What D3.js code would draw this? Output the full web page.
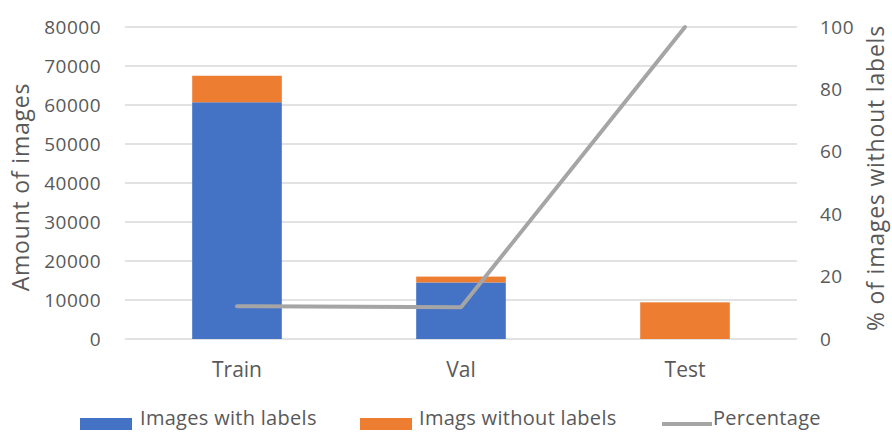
<!DOCTYPE html>
<html><head><meta charset="utf-8">
<script src="https://cdn.jsdelivr.net/npm/d3@7"></script>
<style>body{margin:0;background:#fff}text{font-family:"Open Sans",sans-serif;fill:#595959}</style>
</head><body>
<svg id="c" width="892" height="432"></svg>
<script>
const categories = ["Train", "Val", "Test"];
const withLabels = [60700, 14500, 0];
const withoutLabels = [6800, 1500, 9400];
const percentage = [10.5, 10.2, 100];
const leftTicks = [0,10000,20000,30000,40000,50000,60000,70000,80000];
const rightTicks = [0,20,40,60,80,100];
const seriesNames = ["Images with labels", "Imags without labels", "Percentage"];

const svg = d3.select("#c");
const L=125, R=797, T=27, B=339;
const x = d3.scaleBand().domain(categories).range([L,R]).paddingInner(0.6).paddingOuter(0.3);
const y = d3.scaleLinear().domain([0,80000]).range([B,T]);
const y2 = d3.scaleLinear().domain([0,100]).range([B,T]);

// gridlines
svg.append("g").selectAll("line").data(leftTicks).join("line")
  .attr("x1",L).attr("x2",R).attr("y1",d=>y(d)).attr("y2",d=>y(d))
  .attr("stroke","#d9d9d9").attr("stroke-width",1.5);

// left axis labels
const ax = svg.append("g").attr("transform",`translate(${L},0)`)
  .call(d3.axisLeft(y).tickValues(leftTicks).tickSize(0).tickPadding(24).tickFormat(d3.format("d")));
ax.select(".domain").remove();
ax.selectAll("text").style("font-size","19px").attr("letter-spacing","0.5px").attr("font-family",null);

const ax2 = svg.append("g").attr("transform",`translate(${R},0)`)
  .call(d3.axisRight(y2).tickValues(rightTicks).tickSize(0).tickPadding(23));
ax2.select(".domain").remove();
ax2.selectAll("text").style("font-size","19px").attr("letter-spacing","0.5px").attr("font-family",null);

const ax3 = svg.append("g").attr("transform",`translate(0,${B})`)
  .call(d3.axisBottom(x).tickSize(0).tickPadding(23));
ax3.select(".domain").remove();
ax3.selectAll("text").style("font-size","21px").attr("font-family",null);

// bars
const stack = categories.map((c,i)=>({c, a:withLabels[i], b:withoutLabels[i]}));
svg.append("g").selectAll("rect").data(stack).join("rect")
  .attr("x",d=>x(d.c)).attr("width",x.bandwidth())
  .attr("y",d=>y(d.a)).attr("height",d=>y(0)-y(d.a)).attr("fill","#4472c4");
svg.append("g").selectAll("rect").data(stack).join("rect")
  .attr("x",d=>x(d.c)).attr("width",x.bandwidth())
  .attr("y",d=>y(d.a+d.b)).attr("height",d=>y(d.a)-y(d.a+d.b)).attr("fill","#ed7d31");

// line
const line = d3.line().x((d,i)=>x(categories[i])+x.bandwidth()/2).y(d=>y2(d));
svg.append("path").datum(percentage).attr("d",line).attr("fill","none")
  .attr("stroke","#a5a5a5").attr("stroke-width",4).attr("stroke-linecap","round").attr("stroke-linejoin","round");

// axis titles
svg.append("text").attr("transform","translate(29,187) rotate(-90)").attr("text-anchor","middle")
  .style("font-size","23px").attr("letter-spacing","0.8px").text("Amount of images");
svg.append("text").attr("transform","translate(884,178) rotate(-90)").attr("text-anchor","middle")
  .style("font-size","23px").attr("letter-spacing","0.8px").text("% of images without labels");

// legend
const lg = svg.append("g");
const items = [
  {name:seriesNames[0], color:"#4472c4", type:"rect", sx:80, tx:140},
  {name:seriesNames[1], color:"#ed7d31", type:"rect", sx:360, tx:419},
  {name:seriesNames[2], color:"#a5a5a5", type:"line", sx:662, tx:713}
];
items.forEach(it=>{
  if(it.type==="rect") lg.append("rect").attr("x",it.sx).attr("y",418).attr("width",52).attr("height",12).attr("fill",it.color);
  else lg.append("line").attr("x1",it.sx).attr("x2",it.sx+50).attr("y1",424).attr("y2",424).attr("stroke",it.color).attr("stroke-width",4);
  lg.append("text").attr("x",it.tx).attr("y",425).style("font-size","20px").attr("letter-spacing","0.3px").text(it.name);
});
</script>
</body></html>
